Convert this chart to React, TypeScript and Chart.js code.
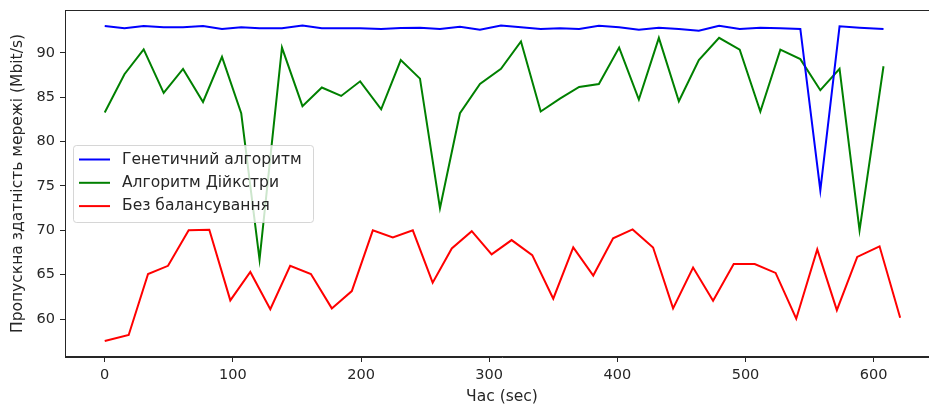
import React, { useEffect, useRef } from "react";
import { Chart, registerables } from "chart.js";

Chart.register(...registerables);

const seriesNames = ["Генетичний алгоритм", "Алгоритм Дійкстри", "Без балансування"];
const seriesColors = ["#0000ff", "#008000", "#ff0000"];

const timeGB = [0, 15.4, 30.4, 46.0, 61.1, 76.7, 91.5, 106.5, 120.8, 138.3, 154.3, 169.4, 184.5, 199.3, 215.7, 231.0, 246.0, 261.6, 277.2, 292.8, 309.2, 324.8, 340.2, 355.2, 370.2, 385.6, 401.4, 416.8, 432.4, 448.0, 463.6, 479.4, 495.5, 511.6, 527.2, 542.8, 558.4, 573.4, 589.0, 607.7];
const timeR = [0, 18.7, 33.8, 49.4, 65.5, 81.6, 98.0, 113.6, 129.2, 144.7, 160.9, 177.2, 192.8, 209.2, 224.8, 240.4, 255.9, 270.8, 286.4, 301.9, 317.5, 333.6, 350.0, 365.6, 381.2, 396.7, 411.9, 427.9, 443.5, 459.1, 474.7, 490.8, 507.2, 523.5, 539.6, 556.0, 571.3, 587.2, 604.6, 620.7];

const genetic = [93.03, 92.77, 93.03, 92.9, 92.9, 93.03, 92.7, 92.9, 92.77, 92.77, 93.1, 92.77, 92.77, 92.77, 92.7, 92.8, 92.85, 92.7, 92.96, 92.62, 93.1, 92.9, 92.7, 92.77, 92.7, 93.07, 92.9, 92.62, 92.85, 92.7, 92.5, 93.07, 92.7, 92.85, 92.77, 92.7, 74.5, 93.0, 92.85, 92.7];
const dijkstra = [83.28, 87.6, 90.4, 85.5, 88.2, 84.47, 89.55, 83.2, 66.7, 90.6, 84.0, 86.1, 85.15, 86.8, 83.65, 89.2, 87.1, 72.5, 83.2, 86.5, 88.2, 91.3, 83.4, 84.85, 86.16, 86.5, 90.6, 84.74, 91.7, 84.55, 89.2, 91.7, 90.37, 83.4, 90.37, 89.3, 85.8, 88.2, 70.0, 88.5];
const noBalance = [57.52, 58.2, 65.07, 66.0, 70.0, 70.06, 62.1, 65.3, 61.1, 66.0, 65.07, 61.2, 63.15, 70.0, 69.2, 70.0, 64.1, 67.96, 69.9, 67.3, 68.9, 67.2, 62.3, 68.07, 64.9, 69.1, 70.1, 68.07, 61.2, 65.8, 62.06, 66.2, 66.2, 65.2, 60.03, 67.85, 61.0, 67.0, 68.2, 60.15];

const xTicks = [0, 100, 200, 300, 400, 500, 600];
const yTicks = [60, 65, 70, 75, 80, 85, 90];
const xTitle = "Час (sec)";
const yTitle = "Пропускна здатність мережі (Mbit/s)";

const FONT = "'DejaVu Sans', sans-serif";

const pts = (xs: number[], ys: number[]) => xs.map((x, i) => ({ x, y: ys[i] }));

const framePlugin = {
  id: "frame",
  afterDraw(chart: any) {
    const { ctx, chartArea } = chart;
    ctx.save();
    ctx.strokeStyle = "#262626";
    ctx.lineWidth = 1;
    ctx.strokeRect(chartArea.left + 0.5, chartArea.top + 0.5, chartArea.right - chartArea.left - 1, chartArea.bottom - chartArea.top - 1);
    // legend
    const lx = 73, ly = 145, lw = 240, lh = 77;
    ctx.fillStyle = "rgba(255,255,255,0.8)";
    ctx.strokeStyle = "rgba(204,204,204,0.8)";
    ctx.beginPath();
    (ctx as any).roundRect(lx + 0.5, ly + 0.5, lw, lh, 3);
    ctx.fill();
    ctx.stroke();
    ctx.font = `15.5px ${FONT}`;
    ctx.textBaseline = "middle";
    ctx.textAlign = "left";
    seriesNames.forEach((name, i) => {
      const cy = 159.5 + i * 23.3;
      ctx.strokeStyle = seriesColors[i];
      ctx.lineWidth = 2;
      ctx.beginPath();
      ctx.moveTo(79, cy);
      ctx.lineTo(110, cy);
      ctx.stroke();
      ctx.fillStyle = "#262626";
      ctx.fillText(name, 122, cy);
    });
    ctx.restore();
  },
};

export default function App() {
  const ref = useRef<HTMLCanvasElement>(null);
  useEffect(() => {
    if (!ref.current) return;
    const ds = [
      { data: pts(timeGB, genetic) },
      { data: pts(timeGB, dijkstra) },
      { data: pts(timeR, noBalance) },
    ].map((d, i) => ({
      label: seriesNames[i],
      data: d.data,
      borderColor: seriesColors[i],
      backgroundColor: seriesColors[i],
      borderWidth: 2,
      pointRadius: 0,
      tension: 0,
      fill: false,
    }));
    const chart = new Chart(ref.current, {
      type: "line",
      data: { datasets: ds },
      options: {
        animation: false,
        responsive: false,
        maintainAspectRatio: false,
        layout: { padding: { top: 10, right: 1, left: 9, bottom: 0 } },
        plugins: { legend: { display: false }, tooltip: { enabled: false } },
        scales: {
          x: {
            type: "linear",
            min: -31,
            max: 651,
            afterBuildTicks: (s: any) => { s.ticks = xTicks.map((v) => ({ value: v })); },
            afterFit: (s: any) => { s.height = 49; s.paddingLeft = 0; s.paddingRight = 0; },
            grid: { drawOnChartArea: false, drawTicks: true, tickLength: 5, color: "#262626" },
            border: { display: true, color: "#262626" },
            ticks: { color: "#262626", font: { family: FONT, size: 14.5 }, padding: 5, maxRotation: 0 },
            title: { display: true, text: xTitle, color: "#262626", font: { family: FONT, size: 15.5 }, padding: { top: 2, bottom: 0 } },
          },
          y: {
            type: "linear",
            min: 55.72,
            max: 94.84,
            afterBuildTicks: (s: any) => { s.ticks = yTicks.map((v) => ({ value: v })); },
            afterFit: (s: any) => { s.width = 56; s.paddingTop = 0; s.paddingBottom = 0; },
            grid: { drawOnChartArea: false, drawTicks: true, tickLength: 5, color: "#262626" },
            border: { display: true, color: "#262626" },
            ticks: { color: "#262626", font: { family: FONT, size: 14.5 }, padding: 5 },
            title: { display: true, text: yTitle, color: "#262626", font: { family: FONT, size: 15.5 }, padding: { top: 0, bottom: 2 } },
          },
        },
      },
      plugins: [framePlugin],
    });
    return () => chart.destroy();
  }, []);
  return (
    <div style={{ position: "fixed", left: 0, top: 0, width: 929, height: 406, overflow: "hidden", background: "#fff" }}>
      <canvas ref={ref} width={940} height={406} style={{ display: "block", width: 940, height: 406 }} />
    </div>
  );
}
